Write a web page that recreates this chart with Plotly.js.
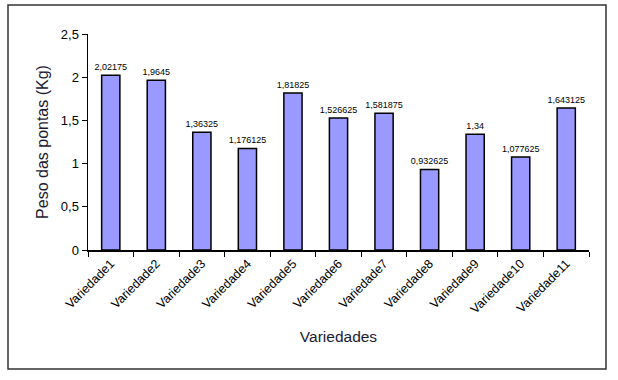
<!DOCTYPE html>
<html><head><meta charset="utf-8">
<script src="https://cdn.plot.ly/plotly-3.0.1.min.js"></script>
<style>html,body{margin:0;padding:0;background:#fff;}#chart{width:618px;height:380px;}</style>
</head><body><div id="chart"></div>
<script>
const categories = ["Variedade1","Variedade2","Variedade3","Variedade4","Variedade5","Variedade6","Variedade7","Variedade8","Variedade9","Variedade10","Variedade11"];
const values = [2.02175, 1.9645, 1.36325, 1.176125, 1.81825, 1.526625, 1.581875, 0.932625, 1.34, 1.077625, 1.643125];
const yTicks = [0, 0.5, 1, 1.5, 2, 2.5];
const yTickLabels = ["0", "0,5", "1", "1,5", "2", "2,5"];

const labels = values.map(v => String(v).replace('.', ','));

const trace = {
  type: 'bar', x: categories, y: values,
  text: labels, textposition: 'outside', cliponaxis: false, constraintext: 'none',
  textfont: {family: 'Liberation Sans, Arial, sans-serif', size: 9, color: '#000'},
  marker: {color: '#9999FF', line: {color: '#000', width: 1.5}},
  hoverinfo: 'none'
};
const layout = {
  width: 618, height: 380,
  margin: {l: 88, r: 29, t: 34, b: 130},
  paper_bgcolor: '#fff', plot_bgcolor: '#fff',
  separators: ',.',
  bargap: 0.6,
  showlegend: false,
  font: {family: 'Liberation Sans, Arial, sans-serif', color: '#000'},
  xaxis: {
    tickangle: -45, tickson: 'boundaries', ticks: 'outside', ticklen: 5, tickcolor: '#000',
    showline: true, linecolor: '#000', linewidth: 1.5, showgrid: false,
    tickfont: {size: 12.5, color: '#000'},
    title: {text: 'Variedades', font: {size: 15.5, color: '#1a1a33'}, standoff: 16}
  },
  yaxis: {
    range: [0, 2.5], tickvals: yTicks, ticktext: yTickLabels,
    ticks: 'outside', ticklen: 5, tickcolor: '#000',
    showline: true, linecolor: '#000', linewidth: 1.5, showgrid: false, zeroline: false,
    tickfont: {size: 13, color: '#000'},
    title: {text: 'Peso das pontas (Kg)', font: {size: 16, color: '#1a1a33'}, standoff: 8}
  },
  shapes: [{
    type: 'rect', xref: 'paper', yref: 'paper',
    x0: (8-88)/501, x1: (606-88)/501, y0: (380-369-130)/216, y1: (380-5-130)/216,
    line: {color: '#333', width: 1.5}, fillcolor: 'rgba(0,0,0,0)', layer: 'below'
  }]
};
Plotly.newPlot('chart', [trace], layout, {staticPlot: true, displayModeBar: false});
</script></body></html>
